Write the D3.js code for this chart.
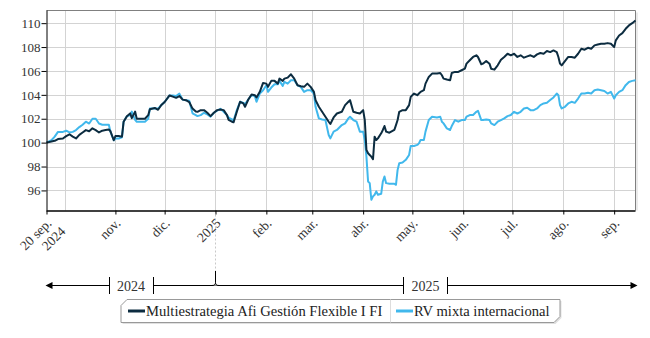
<!DOCTYPE html>
<html><head><meta charset="utf-8">
<script src="https://cdn.jsdelivr.net/npm/d3@7"></script>
<style>body{margin:0;background:#fff}svg{display:block;font-family:"Liberation Serif","Times New Roman",serif}</style>
</head><body><svg id="c" width="650" height="338"></svg>
<script>
const dates = ["2024-09-20","2024-09-23","2024-09-25","2024-09-27","2024-09-30","2024-10-02","2024-10-04","2024-10-06","2024-10-08","2024-10-10","2024-10-12","2024-10-14","2024-10-16","2024-10-18","2024-10-20","2024-10-22","2024-10-24","2024-10-26","2024-10-28","2024-10-29","2024-10-31","2024-11-01","2024-11-03","2024-11-05","2024-11-06","2024-11-08","2024-11-10","2024-11-11","2024-11-13","2024-11-14","2024-11-17","2024-11-19","2024-11-21","2024-11-22","2024-11-25","2024-11-27","2024-11-29","2024-12-01","2024-12-04","2024-12-06","2024-12-08","2024-12-10","2024-12-12","2024-12-14","2024-12-16","2024-12-18","2024-12-20",
"2024-12-21","2024-12-23","2024-12-25","2024-12-27","2024-12-29","2024-12-31","2025-01-02","2025-01-04","2025-01-06","2025-01-08","2025-01-09","2025-01-11","2025-01-12","2025-01-14","2025-01-16","2025-01-18","2025-01-19","2025-01-21","2025-01-23","2025-01-25","2025-01-26","2025-01-28","2025-01-30","2025-02-01","2025-02-02","2025-02-04","2025-02-06","2025-02-08","2025-02-09","2025-02-11","2025-02-12","2025-02-14","2025-02-16","2025-02-18","2025-02-20","2025-02-22","2025-02-24","2025-02-26","2025-02-28","2025-03-02","2025-03-03","2025-03-05","2025-03-07","2025-03-09","2025-03-11","2025-03-12","2025-03-14","2025-03-16","2025-03-19","2025-03-21",
"2025-03-23","2025-03-24","2025-03-26","2025-03-28","2025-03-30","2025-04-01","2025-04-02","2025-04-03","2025-04-04","2025-04-05","2025-04-06","2025-04-07","2025-04-08","2025-04-09","2025-04-10","2025-04-12","2025-04-13","2025-04-14","2025-04-15","2025-04-17","2025-04-20","2025-04-21","2025-04-22","2025-04-23","2025-04-25","2025-04-27","2025-04-29","2025-04-30","2025-05-02","2025-05-04","2025-05-05","2025-05-06","2025-05-08","2025-05-09","2025-05-11","2025-05-13","2025-05-16","2025-05-18","2025-05-19","2025-05-20","2025-05-22","2025-05-24","2025-05-25","2025-05-27","2025-05-29","2025-05-31","2025-06-02","2025-06-03","2025-06-05","2025-06-07","2025-06-09","2025-06-10","2025-06-12","2025-06-13","2025-06-15","2025-06-17","2025-06-18","2025-06-20",
"2025-06-22","2025-06-24","2025-06-26","2025-06-28","2025-06-30","2025-07-02","2025-07-04","2025-07-06","2025-07-08","2025-07-10","2025-07-12","2025-07-14","2025-07-16","2025-07-18","2025-07-20","2025-07-22","2025-07-24","2025-07-26","2025-07-28","2025-07-29","2025-07-30","2025-07-31","2025-08-02","2025-08-04","2025-08-06","2025-08-08","2025-08-10","2025-08-12","2025-08-14","2025-08-16","2025-08-18","2025-08-20","2025-08-22","2025-08-24","2025-08-26","2025-08-28","2025-08-30","2025-09-01","2025-09-02","2025-09-04","2025-09-06","2025-09-08","2025-09-10","2025-09-12","2025-09-14"];

const fundValues = [100,100.1,100.15,100.3,100.35,100.55,100.7,100.5,100.35,100.65,100.85,101.05,100.95,101.2,101.05,100.85,101.0,101.05,101.1,100.95,100.2,100.55,100.55,100.5,101.75,102.2,102.45,102.05,102.6,102.0,102.0,102.0,102.3,102.8,102.9,102.75,103.15,103.4,103.95,103.85,103.75,103.9,103.6,103.55,103.4,102.85,102.6,
102.58,102.72,102.72,102.5,102.22,102.5,102.72,102.78,102.72,102.3,101.9,101.75,101.7,102.58,103.42,103.28,103.0,103.61,104.03,103.97,103.78,104.25,105.0,104.94,104.67,105.17,105.17,104.94,105.36,105.17,105.36,105.44,105.72,105.36,104.8,104.72,104.67,104.94,104.67,104.25,103.56,103.0,102.58,102.17,101.75,101.56,102.11,102.44,102.58,103.14,
103.42,103.56,102.58,102.5,102.44,102.72,101.89,99.39,99.11,98.97,98.83,98.61,100.5,100.22,100.36,100.78,101.06,101.39,100.92,100.83,101.06,101.47,101.89,102.58,102.72,102.72,103.14,103.83,104.11,103.97,104.11,104.25,104.39,104.94,105.5,105.78,105.78,105.83,105.64,105.36,105.28,105.22,105.83,105.92,105.92,106.06,106.19,106.61,106.89,107.17,107.31,107.17,106.56,106.61,106.83,106.61,106.19,106.11,
106.47,106.94,107.17,107.44,107.31,107.44,107.17,107.31,107.11,107.22,107.31,107.17,107.39,107.5,107.44,107.67,107.58,107.72,107.58,107.17,106.61,106.47,106.83,107.17,107.17,107.11,107.44,107.86,107.78,107.94,107.86,108.14,108.22,108.28,108.28,108.33,108.28,108.0,108.56,108.97,109.17,109.53,109.81,110.0,110.22];

const benchmarkValues = [100,100.2,100.5,100.9,100.9,101.0,100.85,100.9,101.05,101.3,101.5,101.75,101.6,102.0,102.0,101.6,101.5,101.5,101.5,100.9,100.2,100.35,100.35,100.45,101.75,102.2,102.3,102.6,101.9,101.75,101.75,101.75,102.0,102.85,102.85,102.85,103.15,103.4,103.95,103.95,103.9,104.1,103.6,103.55,103.5,102.45,102.3,
102.22,102.3,102.5,102.36,102.17,102.5,102.67,102.83,102.58,102.3,102.1,101.95,101.83,102.72,103.42,103.33,103.22,103.61,103.97,103.89,103.42,104.11,104.39,104.8,104.25,104.61,104.89,104.89,105.17,104.75,105.08,104.94,105.22,105.22,104.8,104.67,104.25,104.39,104.39,104.11,103.0,102.03,101.94,101.89,100.64,100.36,100.92,101.06,101.47,101.61,
102.03,102.17,101.89,101.75,100.92,100.92,100.22,98.83,96.75,96.61,95.22,95.5,95.64,95.92,95.64,95.72,96.75,97.17,96.61,96.56,96.56,96.47,97.72,98.28,98.33,98.56,98.97,99.72,99.72,99.81,99.94,100.22,100.22,100.92,101.89,102.17,102.11,102.17,101.75,101.61,101.19,101.06,101.39,101.89,101.75,101.89,101.89,102.17,102.31,102.31,102.58,102.67,101.89,101.89,101.94,101.89,101.61,101.47,
101.75,101.89,102.03,102.22,102.31,102.58,102.44,102.58,102.86,102.92,102.72,102.72,102.86,103.14,103.28,103.33,103.56,103.78,104.11,103.97,103.14,102.86,103.0,103.28,103.42,103.33,103.69,104.11,104.11,104.17,104.11,104.39,104.44,104.39,104.33,104.11,104.25,103.69,103.97,104.25,104.39,104.81,105.08,105.17,105.22];

const seriesNames = ["Multiestrategia Afi Gestión Flexible I FI","RV mixta internacional"];
const seriesColors = ["#0c2c40","#41b8ec"];
const yTicks = [96,98,100,102,104,106,108,110];
const tickDates = ["2024-09-20","2024-11-01","2024-12-01","2025-01-01","2025-02-01","2025-03-01","2025-04-01","2025-05-01","2025-06-01","2025-07-01","2025-08-01","2025-09-01"];
const tickLabels = [["20 sep.","2024"],["nov."],["dic."],["2025"],["feb."],["mar."],["abr."],["may."],["jun."],["jul."],["ago."],["sep."]];
const gridDates = ["2024-10-01","2024-11-01","2024-12-01","2025-01-01","2025-02-01","2025-03-01","2025-04-01","2025-05-01","2025-06-01","2025-07-01","2025-08-01","2025-09-01"];
const yearLabels = ["2024","2025"];
const yearBounds = [["2024-09-20","2025-01-01"],["2025-01-01","2025-09-14"]];

const FONT = "Liberation Serif";
const parse = d3.utcParse("%Y-%m-%d");
const L = 46.5, R = 635.5, T = 10.5, B = 210.5;
const svg = d3.select("#c");
const x = d3.scaleUtc().domain([parse(dates[0]), parse(dates[dates.length-1])]).range([L, R]);
const y = d3.scaleLinear().domain([94.32, 111.06]).range([B, T]);

// grid
svg.append("g").selectAll("line").data(yTicks).join("line")
  .attr("x1", L).attr("x2", R).attr("y1", d => Math.round(y(d)) + .5).attr("y2", d => Math.round(y(d)) + .5)
  .attr("stroke", "#d3d3d3").attr("stroke-width", 1);
svg.append("g").selectAll("line").data(gridDates).join("line")
  .attr("x1", d => Math.round(x(parse(d))) + .5).attr("x2", d => Math.round(x(parse(d))) + .5)
  .attr("y1", T).attr("y2", B).attr("stroke", "#d3d3d3").attr("stroke-width", 1);

// frame (top/right)
svg.append("path").attr("d", `M${L},${T}H${R}V${B}`).attr("fill", "none").attr("stroke", "#808080").attr("stroke-width", 1);
svg.append("line").attr("x1", R + 1.5).attr("x2", R + 1.5).attr("y1", T + 2).attr("y2", B).attr("stroke", "#000").attr("stroke-opacity", 0.08).attr("stroke-width", 2);

// 2025 dashed marker line
const x2025 = Math.round(x(parse("2025-01-01"))) + .5;
svg.append("line").attr("x1", x2025).attr("x2", x2025).attr("y1", B).attr("y2", 271)
  .attr("stroke", "#c8c8c8").attr("stroke-width", 1).attr("stroke-dasharray", "2,2");

// lines
const line = d3.line().x((d, i) => x(parse(dates[i]))).y(d => y(d));
svg.append("path").datum(benchmarkValues).attr("d", line).attr("fill", "none")
  .attr("stroke", seriesColors[1]).attr("stroke-width", 2).attr("stroke-linejoin", "round");
svg.append("path").datum(fundValues).attr("d", line).attr("fill", "none")
  .attr("stroke", seriesColors[0]).attr("stroke-width", 2).attr("stroke-linejoin", "round");

// y axis
const yAxis = svg.append("g").attr("transform", `translate(${L},0)`)
  .call(d3.axisLeft(y).tickValues(yTicks).tickSize(5).tickPadding(1).tickFormat(d3.format("d")));
yAxis.attr("font-family", FONT).attr("font-size", 13);
yAxis.select(".domain").attr("stroke", "#000").attr("d", `M0.5,${T}V${B}`);
yAxis.selectAll(".tick line").attr("stroke", "#000");
yAxis.selectAll("text").attr("fill", "#333");

// x axis
const xAxis = svg.append("g").attr("transform", `translate(0,${B})`)
  .call(d3.axisBottom(x).tickValues(tickDates.map(parse)).tickSize(4).tickFormat(""));
xAxis.select(".domain").attr("stroke", "#000").attr("stroke-width", 1.5).attr("d", `M${L},0.5H${R}`);
xAxis.selectAll(".tick line").attr("stroke", "#000");
const lab = svg.append("g").attr("font-family", FONT);
tickDates.forEach((d, i) => {
  const tx = x(parse(d));
  const t = lab.append("text").attr("transform", `translate(${tx + 6},224) rotate(-45)`)
    .attr("text-anchor", "end").attr("font-size", 13.5).attr("fill", "#333");
  tickLabels[i].forEach((s, j) => t.append("tspan").attr("x", j ? 4 : 0).attr("dy", j ? "1.15em" : 0).text(s));
});

// year timeline
const yl = 285.5;
const tl = svg.append("g").attr("font-family", FONT);
const boxes = yearBounds.map(b => (x(parse(b[0])) + x(parse(b[1]))) / 2);
const hw = 22;
const segs = [[L + 4, boxes[0] - hw], [boxes[0] + hw, boxes[1] - hw], [boxes[1] + hw, R - 4]];
segs.forEach(s => tl.append("line").attr("x1", s[0]).attr("x2", s[1]).attr("y1", yl).attr("y2", yl).attr("stroke", "#000").attr("stroke-width", 1));
boxes.forEach((c, i) => {
  [c - hw, c + hw].forEach(bx => tl.append("line").attr("x1", Math.round(bx) + .5).attr("x2", Math.round(bx) + .5)
    .attr("y1", 277).attr("y2", 294).attr("stroke", "#000").attr("stroke-width", 1));
  tl.append("text").attr("x", c).attr("y", yl + 5).attr("text-anchor", "middle").attr("font-size", 14).attr("fill", "#333").text(yearLabels[i]);
});
tl.append("path").attr("d", `M${L - 1},${yl}l7,-3.5v7z`).attr("fill", "#000");
tl.append("path").attr("d", `M${R + 2},${yl}l-7,-3.5v7z`).attr("fill", "#000");
tl.append("path").attr("d", `M${x2025},271V282.5M${x2025 - 3.5},${yl}C${x2025 - 1},${yl} ${x2025},${yl - 1} ${x2025},282.5C${x2025},${yl - 1} ${x2025 + 1},${yl} ${x2025 + 3.5},${yl}`)
  .attr("fill", "#fff").attr("stroke", "#000").attr("stroke-width", 1);

// legend
const lg = svg.append("g").attr("font-family", FONT);
const lx0 = 121, lx1 = 560, ly0 = 299.5, ly1 = 322.5, ch = 6;
const shape = `M${lx0 + ch},${ly0}H${lx1}V${ly1 - ch}L${lx1 - ch},${ly1}H${lx0}V${ly0 + ch}Z`;
lg.append("path").attr("d", shape).attr("transform", "translate(1.5,1.5)").attr("fill", "#000").attr("fill-opacity", 0.12);
lg.append("path").attr("d", shape).attr("fill", "#fff").attr("stroke", "#999").attr("stroke-width", 1);
lg.append("line").attr("x1", 390.5).attr("x2", 390.5).attr("y1", ly0).attr("y2", ly1).attr("stroke", "#ddd");
const items = [{x: 128, tx: 146}, {x: 396, tx: 414}];
items.forEach((it, i) => {
  lg.append("line").attr("x1", it.x).attr("x2", it.x + 17).attr("y1", 311).attr("y2", 311).attr("stroke", seriesColors[i]).attr("stroke-width", 3);
  lg.append("text").attr("x", it.tx).attr("y", 316).attr("font-size", 14.6).attr("fill", "#222").text(seriesNames[i]);
});
</script></body></html>
